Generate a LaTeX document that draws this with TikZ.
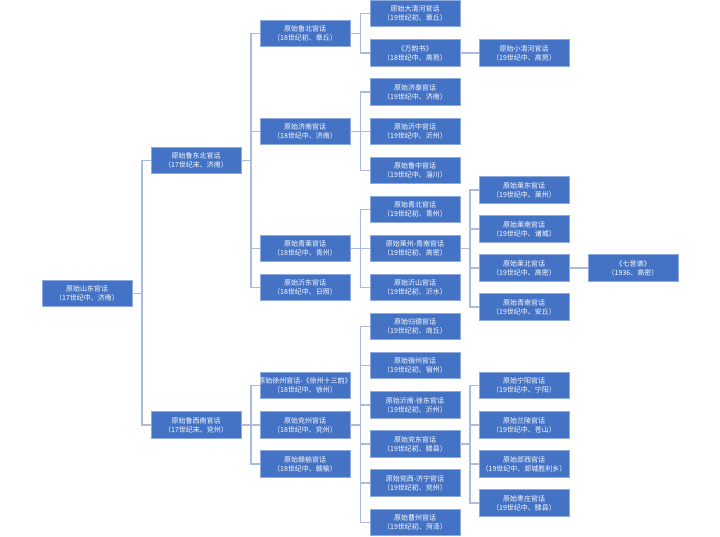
\documentclass[tikz,border=0pt]{standalone}
\usepackage{fontspec}
\newfontfamily\cjk{Noto Sans CJK SC}
\definecolor{boxfill}{HTML}{4472C4}
\definecolor{boxline}{HTML}{8FAADC}
\definecolor{linkline}{HTML}{A9BCE0}
\begin{document}
\begin{tikzpicture}[x=1pt,y=-1pt]
        \tikzset{n/.style={draw=boxline, fill=boxfill, line width=.8pt, text=white, inner sep=0pt,
            minimum width=90pt, minimum height=26.5pt, align=center, font=\cjk\fontsize{7}{9}\selectfont},
            link/.style={draw=linkline, line width=1.3pt}}
        \useasboundingbox (0,0) rectangle (720,537);

        % level 0 and 1
        \draw node[n] (sd) at (87,293.5) {原始山东官话\\（17世纪中、济南）};
        \draw node[n] (ldb) at (196,160.5) {原始鲁东北官话\\（17世纪末、济南）};
        \draw node[n] (lxn) at (196,425) {原始鲁西南官话\\（17世纪末、兖州）};

        % level 2
        \draw node[n] (lb) at (305,33.5) {原始鲁北官话\\（18世纪初、章丘）};
        \draw node[n] (jn) at (305,131.5) {原始济南官话\\（18世纪中、济南）};
        \draw node[n] (ql) at (305,248.5) {原始青莱官话\\（18世纪中、青州）};
        \draw node[n] (yd) at (305,287.5) {原始沂东官话\\（18世纪中、日照）};
        \draw node[n] (xz) at (305,385.5) {\makebox[86pt]{原始徐州官话-《徐州十三韵》}\\（18世纪中、徐州）};
        \draw node[n] (yz) at (305,425) {原始兖州官话\\（18世纪中、兖州）};
        \draw node[n] (gy) at (305,464) {原始赣榆官话\\（18世纪中、赣榆）};

        % level 3
        \draw node[n] (dqh) at (415,13.5) {原始大清河官话\\（19世纪初、章丘）};
        \draw node[n] (wys) at (415,53) {《万韵书》\\（18世纪中、高苑）};
        \draw node[n] (jt) at (415,92) {原始济泰官话\\（19世纪中、济南）};
        \draw node[n] (yzh) at (415,131.5) {原始沂中官话\\（19世纪中、沂州）};
        \draw node[n] (lz) at (415,170.5) {原始鲁中官话\\（19世纪中、淄川）};
        \draw node[n] (qb) at (415,209.5) {原始青北官话\\（19世纪初、青州）};
        \draw node[n] (lzqn) at (415,248.5) {原始莱州-青南官话\\（19世纪初、高密）};
        \draw node[n] (ys) at (415,287.5) {原始沂山官话\\（19世纪初、沂水）};
        \draw node[n] (gd) at (415,326.5) {原始归德官话\\（19世纪初、商丘）};
        \draw node[n] (sz) at (415,365.5) {原始宿州官话\\（19世纪初、宿州）};
        \draw node[n] (ynxd) at (415,405) {原始沂南-徐东官话\\（19世纪初、沂州）};
        \draw node[n] (yd2) at (415,444) {原始兖东官话\\（19世纪初、滕县）};
        \draw node[n] (yxjn) at (415,483) {原始兖西-济宁官话\\（19世纪初、兖州）};
        \draw node[n] (cz) at (415,522.5) {原始曹州官话\\（19世纪初、菏泽）};

        % level 4
        \draw node[n] (xqh) at (524,53) {原始小清河官话\\（19世纪中、高苑）};
        \draw node[n] (ld) at (524,190) {原始莱东官话\\（19世纪中、莱州）};
        \draw node[n] (ln) at (524,229) {原始莱南官话\\（19世纪中、诸城）};
        \draw node[n] (lbei) at (524,268) {原始莱北官话\\（19世纪中、高密）};
        \draw node[n] (qn) at (524,307) {原始青南官话\\（19世纪中、安丘）};
        \draw node[n] (ny) at (524,385.5) {原始宁阳官话\\（19世纪中、宁阳）};
        \draw node[n] (ll) at (524,425) {原始兰陵官话\\（19世纪中、苍山）};
        \draw node[n] (tx) at (524,464) {原始郯西官话\\（19世纪中、郯城胜利乡）};
        \draw node[n] (zz) at (524,503) {原始枣庄官话\\（19世纪中、滕县）};

        % level 5
        \draw node[n] (qyp) at (633,268) {《七音谱》\\（1936、高密）};

        % links
        \draw[link] (sd.east) -- ++(9.5,0) |- (ldb.west);
        \draw[link] (sd.east) -- ++(9.5,0) |- (lxn.west);

        \draw[link] (ldb.east) -- ++(9.5,0) |- (lb.west);
        \draw[link] (ldb.east) -- ++(9.5,0) |- (jn.west);
        \draw[link] (ldb.east) -- ++(9.5,0) |- (ql.west);
        \draw[link] (ldb.east) -- ++(9.5,0) |- (yd.west);
        \draw[link] (lxn.east) -- ++(9.5,0) |- (xz.west);
        \draw[link] (lxn.east) -- (yz.west);
        \draw[link] (lxn.east) -- ++(9.5,0) |- (gy.west);

        \draw[link] (lb.east) -- ++(10,0) |- (dqh.west);
        \draw[link] (lb.east) -- ++(10,0) |- (wys.west);
        \draw[link] (jn.east) -- ++(10,0) |- (jt.west);
        \draw[link] (jn.east) -- (yzh.west);
        \draw[link] (jn.east) -- ++(10,0) |- (lz.west);
        \draw[link] (ql.east) -- ++(10,0) |- (qb.west);
        \draw[link] (ql.east) -- (lzqn.west);
        \draw[link] (ql.east) -- ++(10,0) |- (ys.west);
        \draw[link] (yz.east) -- ++(10,0) |- (gd.west);
        \draw[link] (yz.east) -- ++(10,0) |- (sz.west);
        \draw[link] (yz.east) -- ++(10,0) |- (ynxd.west);
        \draw[link] (yz.east) -- ++(10,0) |- (yd2.west);
        \draw[link] (yz.east) -- ++(10,0) |- (yxjn.west);
        \draw[link] (yz.east) -- ++(10,0) |- (cz.west);

        \draw[link] (wys.east) -- (xqh.west);
        \draw[link] (lzqn.east) -- ++(9.5,0) |- (ld.west);
        \draw[link] (lzqn.east) -- ++(9.5,0) |- (ln.west);
        \draw[link] (lzqn.east) -- ++(9.5,0) |- (lbei.west);
        \draw[link] (lzqn.east) -- ++(9.5,0) |- (qn.west);
        \draw[link] (yd2.east) -- ++(9.5,0) |- (ny.west);
        \draw[link] (yd2.east) -- ++(9.5,0) |- (ll.west);
        \draw[link] (yd2.east) -- ++(9.5,0) |- (tx.west);
        \draw[link] (yd2.east) -- ++(9.5,0) |- (zz.west);

        \draw[link] (lbei.east) -- (qyp.west);
    \end{tikzpicture}
\end{document}
